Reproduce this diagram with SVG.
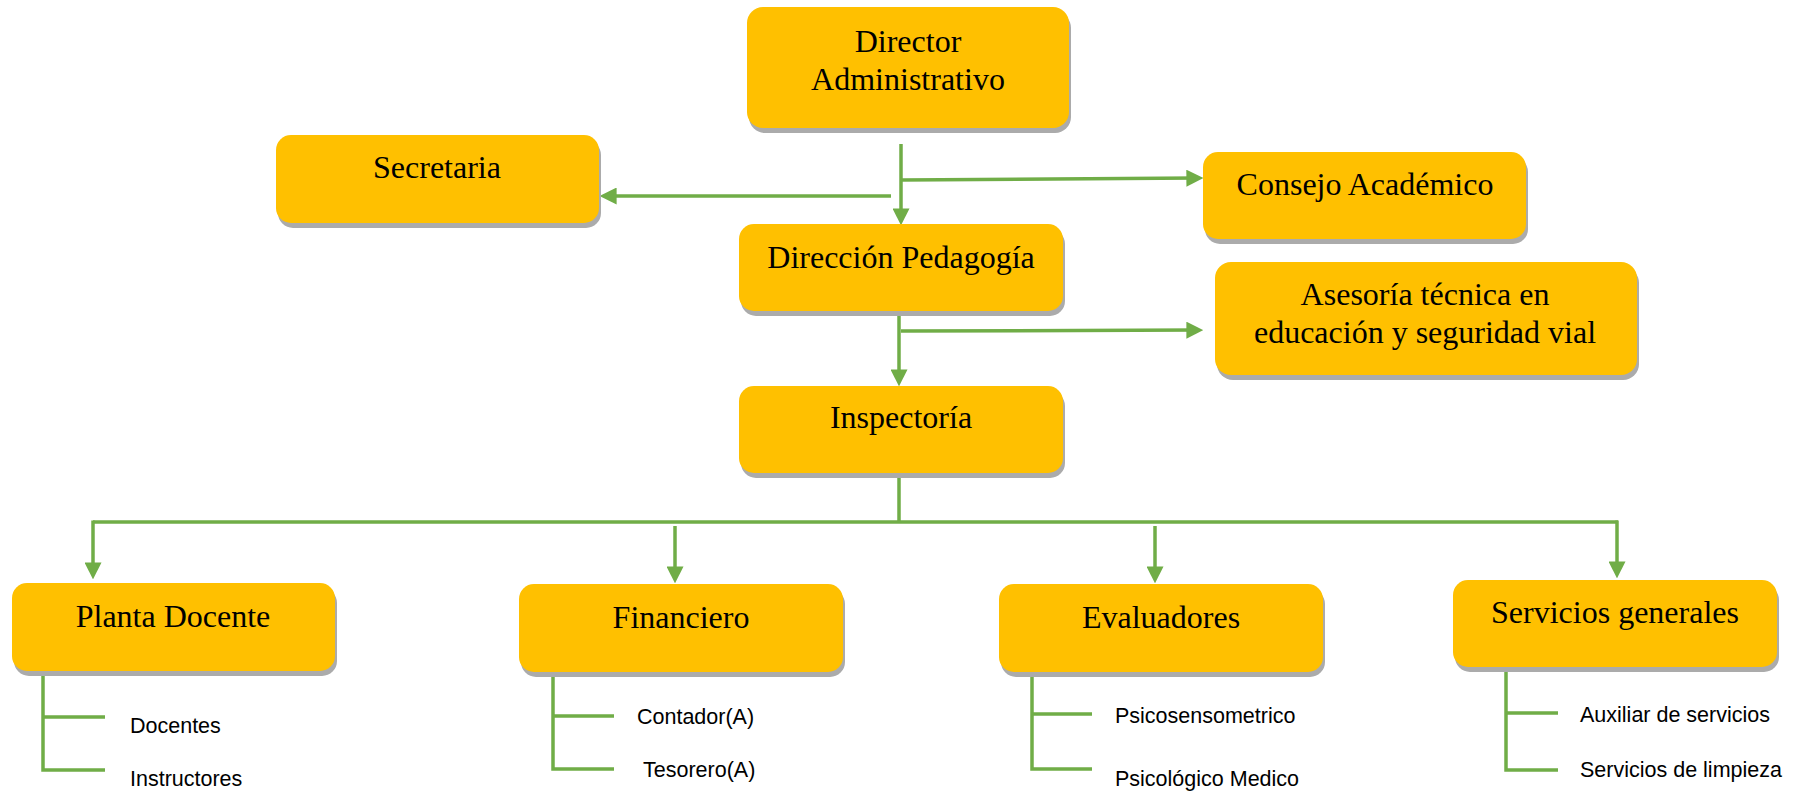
<svg xmlns="http://www.w3.org/2000/svg" width="1795" height="791" viewBox="0 0 1795 791">
<defs>
<style>
.box{fill:#FFC000}
.sh{fill:#ABABAB}
.t{font-family:"Liberation Serif","Times New Roman",serif;font-size:32px;fill:#000;text-anchor:middle}
.s{font-family:"Liberation Sans",Arial,sans-serif;font-size:21.5px;fill:#000}
.c{stroke:#70AD47;stroke-width:3.5;fill:none}
</style>
<marker id="ah" markerUnits="userSpaceOnUse" markerWidth="17" markerHeight="17" viewBox="0 0 16 16" refX="10" refY="8" orient="auto">
<path d="M0,0 L16,8 L0,16 Z" fill="#70AD47"/>
</marker>
</defs>
<rect width="1795" height="791" fill="#fff"/>
<g id="connectors">
<path class="c" d="M901,144 V219" marker-end="url(#ah)"/>
<path class="c" d="M891,196 H606" marker-end="url(#ah)"/>
<path class="c" d="M902,180 L1197,178.1" marker-end="url(#ah)"/>
<path class="c" d="M899,306 V380" marker-end="url(#ah)"/>
<path class="c" d="M901,331 L1197,330.1" marker-end="url(#ah)"/>
<path class="c" d="M899,458 V522 M93,522 H1618"/>
<path class="c" d="M93,520.5 V573" marker-end="url(#ah)"/>
<path class="c" d="M675,526 V577" marker-end="url(#ah)"/>
<path class="c" d="M1155,526 V577" marker-end="url(#ah)"/>
<path class="c" d="M1617,520.5 V572" marker-end="url(#ah)"/>
<path class="c" d="M43,671 V770 H105 M43,717 H105"/>
<path class="c" d="M553,672 V769 H614 M553,716 H614"/>
<path class="c" d="M1032,672 V769 H1092 M1032,714 H1092"/>
<path class="c" d="M1506,671 V770 H1558 M1506,713 H1558"/>
</g>
<g id="director">
<rect class="sh" x="749" y="12" width="322" height="121" rx="16"/>
<rect class="box" x="747" y="7" width="322" height="121" rx="16"/>
<text class="t" x="908" y="52">Director</text>
<text class="t" x="908" y="90">Administrativo</text>
</g>
<g id="secretaria">
<rect class="sh" x="278" y="140" width="323" height="88" rx="15"/>
<rect class="box" x="276" y="135" width="323" height="88" rx="15"/>
<text class="t" x="437" y="178">Secretaria</text>
</g>
<g id="consejo">
<rect class="sh" x="1205" y="157" width="323" height="87" rx="15"/>
<rect class="box" x="1203" y="152" width="323" height="87" rx="15"/>
<text class="t" x="1365" y="195">Consejo Académico</text>
</g>
<g id="direccion">
<rect class="sh" x="741" y="229" width="324" height="87" rx="15"/>
<rect class="box" x="739" y="224" width="324" height="87" rx="15"/>
<text class="t" x="901" y="268">Dirección Pedagogía</text>
</g>
<g id="asesoria">
<rect class="sh" x="1217" y="267" width="422" height="113" rx="16"/>
<rect class="box" x="1215" y="262" width="422" height="113" rx="16"/>
<text class="t" x="1425" y="305">Asesoría técnica en</text>
<text class="t" x="1425" y="343">educación y seguridad vial</text>
</g>
<g id="inspectoria">
<rect class="sh" x="741" y="391" width="324" height="87" rx="15"/>
<rect class="box" x="739" y="386" width="324" height="87" rx="15"/>
<text class="t" x="901" y="428">Inspectoría</text>
</g>
<g id="planta">
<rect class="sh" x="14" y="588" width="323" height="88" rx="15"/>
<rect class="box" x="12" y="583" width="323" height="88" rx="15"/>
<text class="t" x="173" y="627">Planta Docente</text>
<text class="s" x="130" y="733">Docentes</text>
<text class="s" x="130" y="786">Instructores</text>
</g>
<g id="financiero">
<rect class="sh" x="521" y="589" width="324" height="88" rx="15"/>
<rect class="box" x="519" y="584" width="324" height="88" rx="15"/>
<text class="t" x="681" y="628">Financiero</text>
<text class="s" x="637" y="724">Contador(A)</text>
<text class="s" x="643" y="777">Tesorero(A)</text>
</g>
<g id="evaluadores">
<rect class="sh" x="1001" y="589" width="324" height="88" rx="15"/>
<rect class="box" x="999" y="584" width="324" height="88" rx="15"/>
<text class="t" x="1161" y="628">Evaluadores</text>
<text class="s" x="1115" y="723">Psicosensometrico</text>
<text class="s" x="1115" y="786">Psicológico Medico</text>
</g>
<g id="servicios">
<rect class="sh" x="1455" y="585" width="324" height="87" rx="15"/>
<rect class="box" x="1453" y="580" width="324" height="87" rx="15"/>
<text class="t" x="1615" y="623">Servicios generales</text>
<text class="s" x="1580" y="722">Auxiliar de servicios</text>
<text class="s" x="1580" y="777">Servicios de limpieza</text>
</g>
</svg>
